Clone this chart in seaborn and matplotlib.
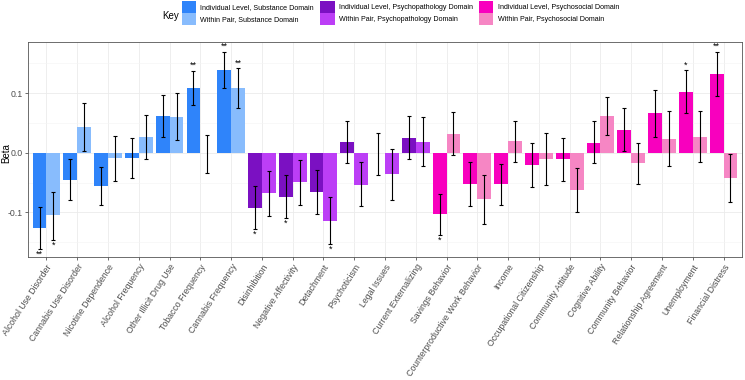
import matplotlib
matplotlib.use('Agg')

import pandas as pd
import numpy as np
import matplotlib.pyplot as plt
import matplotlib.patches as mpatches
import seaborn as sns

measures = ['Alcohol Use Disorder', 'Cannabis Use Disorder', 'Nicotine Dependence',
            'Alcohol Frequency', 'Other Illicit Drug Use', 'Tobacco Frequency',
            'Cannabis Frequency', 'Disinhibition', 'Negative Affectivity', 'Detachment',
            'Psychoticism', 'Legal Issues', 'Current Externalizing', 'Savings Behavior',
            'Counterproductive Work Behavior', 'Income', 'Occupational Citizenship',
            'Community Attitude', 'Cognitive Ability', 'Community Behavior',
            'Relationship Agreement', 'Unemployment', 'Financial Distress']
domains = ['Substance'] * 7 + ['Psychopathology'] * 6 + ['Psychosocial'] * 10

# individual level estimates, lower / upper bounds
ind_beta = [-0.126, -0.045, -0.056, -0.009, 0.061, 0.109, 0.139, -0.093, -0.074, -0.066,
            0.018, -0.001, 0.025, -0.103, -0.052, -0.053, -0.020, -0.011, 0.017, 0.039,
            0.066, 0.102, 0.133]
ind_lo = [-0.161, -0.079, -0.088, -0.042, 0.026, 0.081, 0.108, -0.128, -0.109, -0.102,
          -0.017, -0.038, -0.010, -0.138, -0.089, -0.087, -0.057, -0.047, -0.018, 0.003,
          0.027, 0.067, 0.095]
ind_hi = [-0.091, -0.011, -0.024, 0.024, 0.097, 0.138, 0.170, -0.056, -0.038, -0.029,
          0.054, 0.033, 0.061, -0.069, -0.015, -0.019, 0.016, 0.024, 0.053, 0.076,
          0.106, 0.139, 0.170]
ind_sig = ['**', '', '', '', '', '**', '**', '*', '*', '', '', '', '', '*', '', '', '',
           '', '', '', '', '*', '**']

# within pair estimates
wp_beta = [-0.105, 0.043, -0.008, 0.026, 0.060, -0.001, 0.108, -0.068, -0.049, -0.114,
           -0.054, -0.036, 0.018, 0.031, -0.078, 0.019, -0.010, -0.062, 0.061, -0.017,
           0.023, 0.026, -0.042]
wp_lo = [-0.146, 0.003, -0.047, -0.011, 0.021, -0.034, 0.075, -0.106, -0.087, -0.153,
         -0.090, -0.079, -0.023, -0.004, -0.119, -0.016, -0.054, -0.099, 0.029, -0.053,
         -0.022, -0.015, -0.083]
wp_hi = [-0.066, 0.083, 0.028, 0.063, 0.101, 0.030, 0.142, -0.030, -0.012, -0.075,
         -0.016, 0.006, 0.060, 0.068, -0.037, 0.053, 0.034, -0.026, 0.094, 0.017,
         0.070, 0.070, -0.002]
wp_sig = ['*', '', '', '', '', '', '**', '', '', '*', '', '', '', '', '', '', '', '',
          '', '', '', '', '']

colors = {
    ('Individual Level', 'Substance'): '#2F84FA',
    ('Within Pair', 'Substance'): '#88BCFD',
    ('Individual Level', 'Psychopathology'): '#7B10C2',
    ('Within Pair', 'Psychopathology'): '#BC3EF6',
    ('Individual Level', 'Psychosocial'): '#F800BE',
    ('Within Pair', 'Psychosocial'): '#F686C4',
}

levels = ['Individual Level', 'Within Pair']
df = pd.DataFrame({
    'measure': measures * 2,
    'domain': domains * 2,
    'level': [levels[0]] * len(measures) + [levels[1]] * len(measures),
    'beta': ind_beta + wp_beta,
    'lo': ind_lo + wp_lo,
    'hi': ind_hi + wp_hi,
    'sig': ind_sig + wp_sig,
})

plt.rcParams['font.family'] = ['Liberation Sans', 'DejaVu Sans']
fig = plt.figure(figsize=(7.45, 3.8), dpi=100)
ax = fig.add_axes([0.0376, 0.3237, 0.9584, 0.5658])

sns.barplot(data=df, x='measure', y='beta', hue='level', hue_order=levels,
            order=measures, width=0.9, errorbar=None, legend=False,
            palette=['#2F84FA', '#88BCFD'], saturation=1, ax=ax)

# recolour by domain and add error bars / stars
bars = [p for p in ax.patches if isinstance(p, mpatches.Rectangle)]
n = len(measures)
for k, p in enumerate(bars[:2 * n]):
    row = df.iloc[k]
    p.set_facecolor(colors[(row['level'], row['domain'])])
    p.set_edgecolor('none')
    xc = p.get_x() + p.get_width() / 2
    ax.errorbar(xc, row['beta'], yerr=[[row['beta'] - row['lo']], [row['hi'] - row['beta']]],
                fmt='none', ecolor='black', elinewidth=0.8, capsize=1.5, capthick=0.8, zorder=3)
    if row['sig']:
        if row['beta'] >= 0:
            ax.text(xc, row['hi'] + 0.001, row['sig'], ha='center', va='bottom', fontsize=6.5)
        else:
            ax.text(xc, row['lo'] - 0.001, row['sig'], ha='center', va='top', fontsize=6.5)

ax.set_xlim(-0.6, n - 0.4)
ax.set_ylim(-0.175, 0.186)
ax.set_yticks([-0.1, 0.0, 0.1])
ax.set_yticklabels(['-0.1', '0.0', '0.1'])
ax.set_yticks([-0.15, -0.05, 0.05, 0.15], minor=True)
ax.grid(True, which='major', color='#EBEBEB', lw=0.6)
ax.grid(True, which='minor', axis='y', color='#F4F4F4', lw=0.4)
ax.set_axisbelow(True)
for s in ax.spines.values():
    s.set_color('#555555')
    s.set_linewidth(0.6)
ax.tick_params(axis='both', colors='#333333', length=2.5, width=0.5, labelsize=6.3,
               labelcolor='#4D4D4D', pad=1.5)
ax.tick_params(axis='y', which='minor', length=0)
ax.set_xticks(range(n))
ax.set_xticklabels(measures, rotation=57, ha='right', rotation_mode='anchor')
ax.set_xlabel('')
ax.set_ylabel('')
fig.text(0.008, 0.3237 + 0.5658 * (0.175 / 0.361), 'Beta', fontsize=7,
         rotation=90, ha='center', va='center')

handles = []
for dom in ['Substance', 'Psychopathology', 'Psychosocial']:
    for lev in levels:
        handles.append(mpatches.Patch(facecolor=colors[(lev, dom)],
                                      label=f'{lev}, {dom} Domain'))
fig.legend(handles=handles, ncol=3, loc='upper left', bbox_to_anchor=(182 / 745, 1 - 1 / 380),
           frameon=False, fontsize=5.1, handlelength=2.0, handleheight=2.2,
           handletextpad=0.6, columnspacing=0.9, labelspacing=0.05,
           borderpad=0, borderaxespad=0)
fig.text(162 / 745, 1 - 16 / 380, 'Key', fontsize=7, ha='left', va='center')

fig.savefig('out.png', dpi=100)
